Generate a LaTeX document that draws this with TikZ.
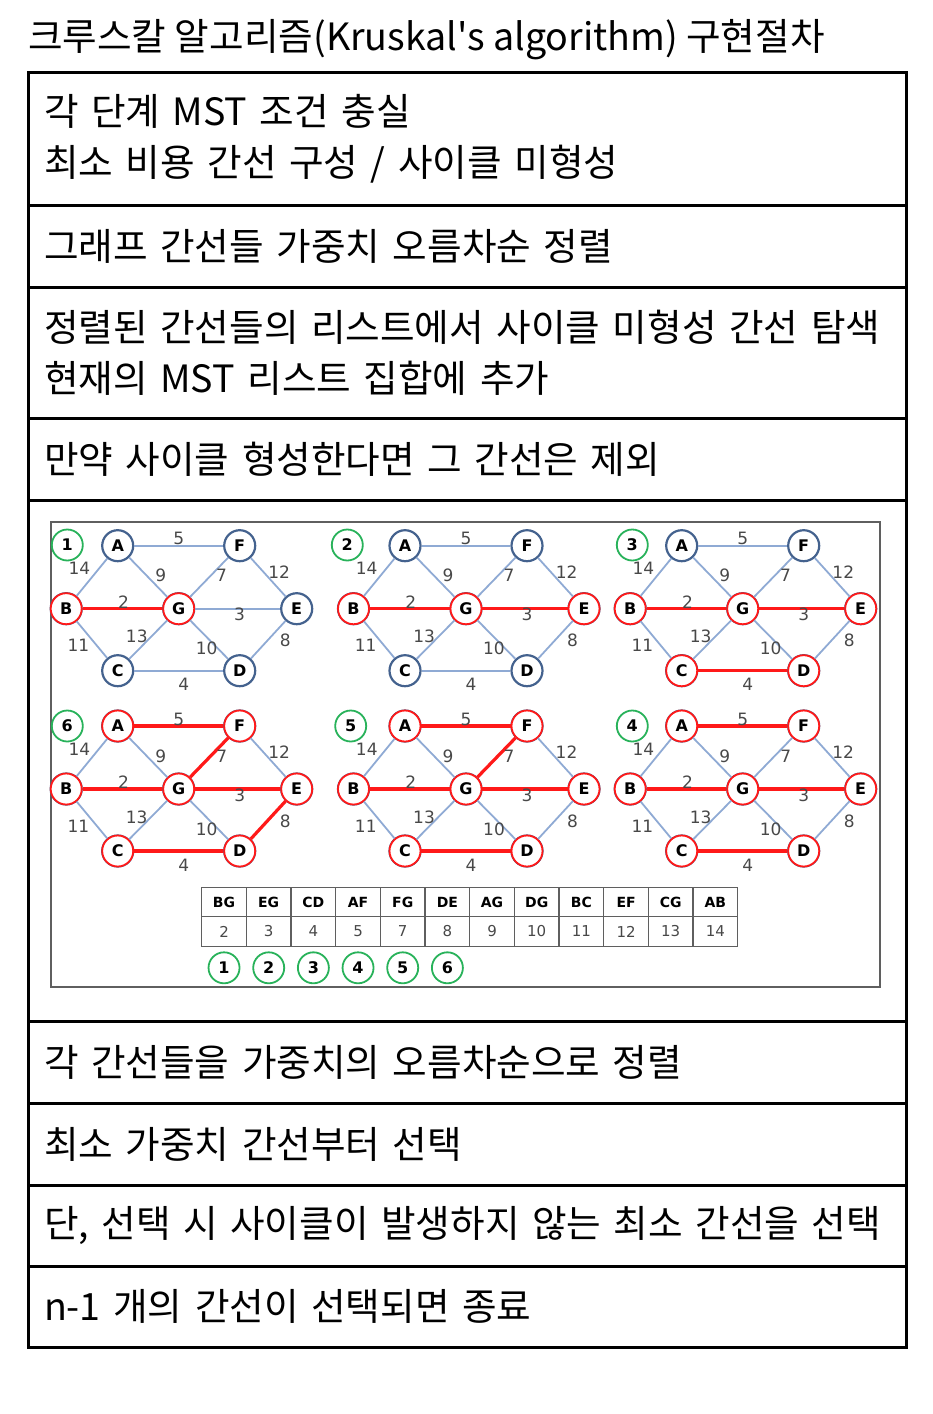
\documentclass[tikz,border=0pt]{standalone}
\usepackage{fontspec}
\setmainfont{Noto Sans CJK KR}[Ligatures=TeXOff]
\newfontfamily\glabel{DejaVu Sans}
\usetikzlibrary{positioning}

\definecolor{nodeblue}{RGB}{68,98,142}
\definecolor{edgeblue}{RGB}{143,170,212}
\definecolor{mstred}{RGB}{255,25,25}
\definecolor{stepgreen}{RGB}{40,178,90}
\definecolor{wgray}{RGB}{72,72,72}
\definecolor{framegray}{RGB}{95,95,95}

% one graph panel: name, position of A, position of step mark, step, red vertices, red edges
\newcommand{\kpanel}[6]{%
  \node[stepmark] (#1s) at #3 {#4};
  \begin{scope}[shift={#2}]
    \foreach \v/\vx/\vy in {A/0/0, F/122/0, B/-51.5/63, G/61/63, E/179/63, C/0/125, D/122/125}
      \node[vtx] (#1\v) at (\vx,\vy) {\v};
    \foreach \v in {#5}
      \node[vtxred] (#1\v) at (#1\v.center) {\v};
    \foreach \a/\b in {A/F, A/B, A/G, G/F, F/E, B/G, G/E, B/C, C/G, G/D, D/E, C/D}
      \draw[edge] (#1\a) -- (#1\b);
    \foreach \a/\b in {#6}
      \draw[mst] (#1\a) -- (#1\b);
    \foreach \a/\b/\w/\dx/\dy in {A/F/5/0/-7, A/B/14/-12.5/-8.5, A/G/9/12.5/-1.5, G/F/7/12.5/-1.5,
        F/E/12/11/-5.5, B/G/2/1/-6.5, G/E/3/2/6, B/C/11/-13.5/6, C/G/13/-11.5/-3,
        G/D/10/-2.5/9, D/E/8/17/1, C/D/4/5/14}
      \path (#1\a) -- node[wlabel, shift={(\dx,\dy)}] {\w} (#1\b);
  \end{scope}
}

\begin{document}
\begin{tikzpicture}[
  x=1pt, y=-1pt,
  rowbox/.style={rectangle, draw, line width=3, outer sep=0, minimum width=878, text width=846,
    inner xsep=16, inner ysep=0, align=left, font=\fontsize{37.6}{51}\selectfont},
  vtx/.style={circle, draw=nodeblue, line width=2.2, fill=white, minimum size=31, inner sep=0,
    font=\glabel\bfseries\fontsize{16}{16}\selectfont},
  vtxred/.style={vtx, draw=mstred, line width=1.8},
  stepmark/.style={circle, draw=stepgreen, line width=1.8, fill=white, minimum size=31, inner sep=0,
    font=\glabel\bfseries\fontsize{16}{16}\selectfont},
  edge/.style={draw=edgeblue, line width=1.8},
  mst/.style={draw=mstred, line width=3.2},
  wlabel/.style={inner sep=0, text=wgray, font=\glabel\fontsize{17}{17}\selectfont},
  thead/.style={rectangle, draw=framegray, line width=1.3, minimum width=44.67, minimum height=29.5,
    inner sep=0, font=\glabel\bfseries\fontsize{14}{14}\selectfont},
  tcell/.style={thead, text=wgray, font=\glabel\fontsize{15}{15}\selectfont}
]
\useasboundingbox (0,0) rectangle (932,1414);

\node[anchor=west, inner sep=0, font=\fontsize{37.6}{51}\selectfont] (title) at (28,40)
  {크루스칼 알고리즘(Kruskal's algorithm) 구현절차};

\node[rowbox, anchor=north west, minimum height=133] (r1) at (28,72)
  {각 단계 MST 조건 충실\\최소 비용 간선 구성 / 사이클 미형성};
\node[rowbox, below=0pt of r1, minimum height=82] (r2) {그래프 간선들 가중치 오름차순 정렬};
\node[rowbox, below=0pt of r2, minimum height=131] (r3)
  {정렬된 간선들의 리스트에서 사이클 미형성 간선 탐색\\현재의 MST 리스트 집합에 추가};
\node[rowbox, below=0pt of r3, minimum height=82] (r4) {만약 사이클 형성한다면 그 간선은 제외};
\node[rowbox, below=0pt of r4, minimum height=521] (r5) {};
\node[rowbox, below=0pt of r5, minimum height=82] (r6) {각 간선들을 가중치의 오름차순으로 정렬};
\node[rowbox, below=0pt of r6, minimum height=82] (r7) {최소 가중치 간선부터 선택};
\node[rowbox, below=0pt of r7, minimum height=81] (r8) {단, 선택 시 사이클이 발생하지 않는 최소 간선을 선택};
\node[rowbox, below=0pt of r8, minimum height=81] (r9) {n-1 개의 간선이 선택되면 종료};

% figure frame
\draw[framegray, line width=1.5] (51,522) rectangle (880,987);

\kpanel{p1}{(117.7,545.7)}{(67.3,545)}{1}{B,G}{B/G}
\kpanel{p2}{(405,545.7)}{(347.3,545)}{2}{B,G,E}{B/G,G/E}
\kpanel{p3}{(681.7,545.7)}{(632.3,545)}{3}{B,G,E,C,D}{B/G,G/E,C/D}
\kpanel{p4}{(681.7,726)}{(632.3,726)}{4}{A,F,B,G,E,C,D}{B/G,G/E,C/D,A/F}
\kpanel{p5}{(405,726)}{(350.7,726)}{5}{A,F,B,G,E,C,D}{B/G,G/E,C/D,A/F,G/F}
\kpanel{p6}{(117.7,726)}{(67.3,726)}{6}{A,F,B,G,E,C,D}{B/G,G/E,C/D,A/F,G/F,D/E}

% sorted edge table
\foreach \e/\w [count=\i] in {BG/2, EG/3, CD/4, AF/5, FG/7, DE/8, AG/9, DG/10, BC/11, EF/12, CG/13, AB/14}
{
  \node[thead] (h\i) at ({201.7+44.67*(\i-0.5)},902) {\e};
  \node[tcell] (c\i) at ({201.7+44.67*(\i-0.5)},931.5) {\w};
}
\foreach \i in {1,...,6}
  \node[stepmark, below=4.5pt of c\i] (m\i) {\i};

\end{tikzpicture}
\end{document}
